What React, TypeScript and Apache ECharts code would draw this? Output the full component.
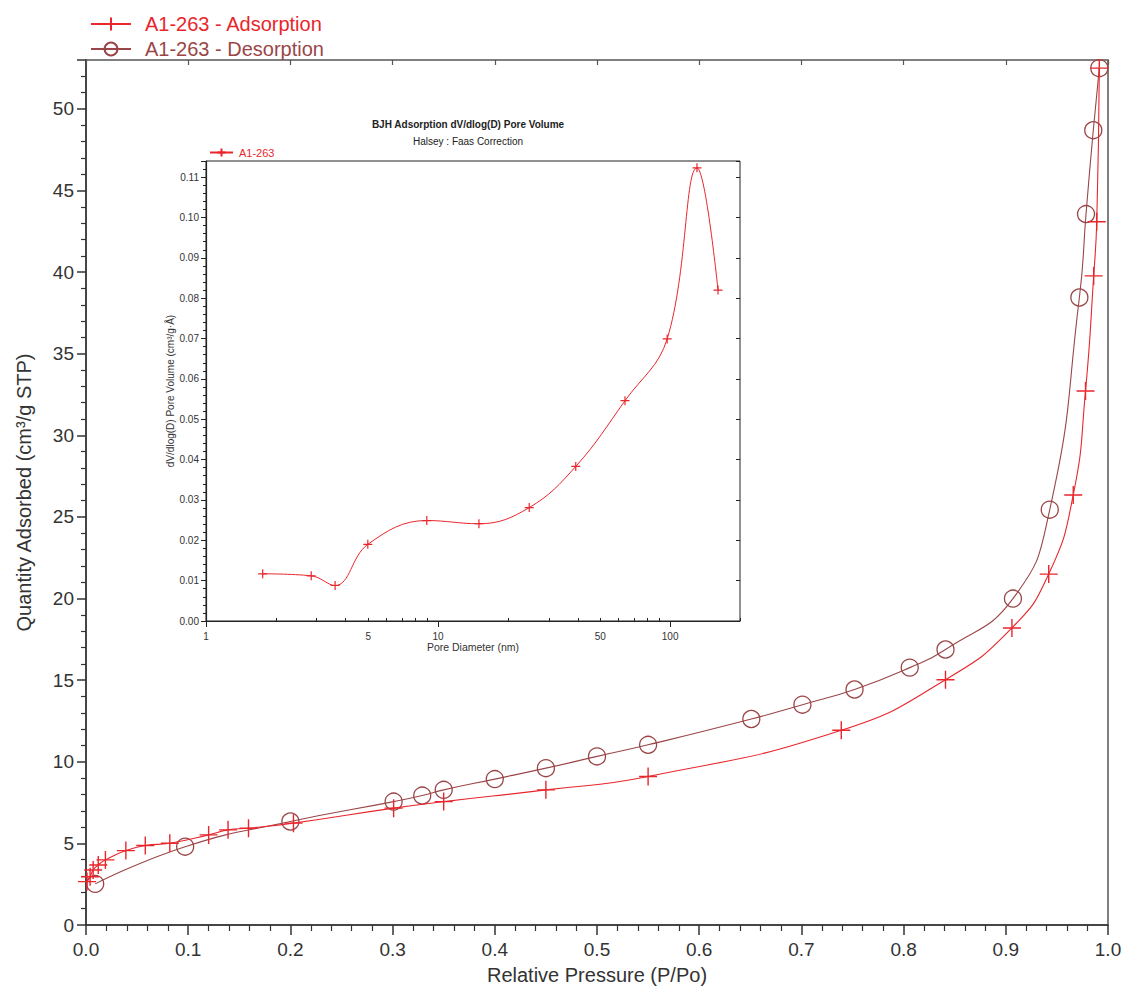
import React, { useEffect, useRef } from "react";
import * as echarts from "echarts";

// Main isotherm (Relative Pressure P/Po vs Quantity Adsorbed)
const adsP = [0.001, 0.004, 0.007, 0.012, 0.019, 0.039, 0.058, 0.082, 0.12, 0.139, 0.159, 0.203, 0.301, 0.35, 0.45, 0.55, 0.739, 0.841, 0.906, 0.942, 0.966, 0.978, 0.986, 0.989, 0.9915];
const adsQ = [2.66, 2.96, 3.37, 3.68, 3.99, 4.56, 4.87, 5.01, 5.52, 5.83, 5.93, 6.24, 7.16, 7.56, 8.28, 9.1, 11.93, 15.03, 18.2, 21.5, 26.35, 32.72, 39.77, 43.09, 52.5];
const desP = [0.009, 0.097, 0.2, 0.301, 0.329, 0.35, 0.4, 0.45, 0.5, 0.55, 0.651, 0.701, 0.752, 0.806, 0.841, 0.907, 0.943, 0.972, 0.9785, 0.9856, 0.9915];
const desQ = [2.52, 4.8, 6.34, 7.56, 7.93, 8.28, 8.94, 9.61, 10.33, 11.04, 12.62, 13.5, 14.43, 15.77, 16.88, 20.0, 25.45, 38.45, 43.56, 48.7, 52.5];

// Inset BJH pore size distribution
const poreD = [1.755, 2.84, 3.6, 4.98, 8.94, 15.0, 24.7, 39.2, 63.9, 97.1, 130.5, 160.8];
const poreV = [0.0117, 0.0112, 0.0088, 0.019, 0.0249, 0.0241, 0.0281, 0.0383, 0.0546, 0.0699, 0.1123, 0.082];

const insetLabelValues = [1, 5, 10, 50, 100];
const insetMajorTicks = [1, 10, 100];
const insetMinorTicks = [2, 3, 4, 5, 6, 7, 8, 9, 20, 30, 40, 50, 60, 70, 80, 90, 200];

const RED = "#e8262c";
const BROWN = "#9a4648";
const AXIS = "#333333";
const FONT = "'Liberation Sans', Arial, sans-serif";
const PLUS = "path://M10,0L10,20M0,10L20,10";

export default function App() {
  const ref = useRef<HTMLDivElement>(null);
  useEffect(() => {
    document.body.style.margin = "0";
    const chart = echarts.init(ref.current!, null, { renderer: "svg" });
    chart.setOption({
      animation: false,
      backgroundColor: "#ffffff",
      textStyle: { fontFamily: FONT },
      graphic: [
        {
          type: "text",
          x: 468,
          y: 124,
          style: {
            text: "BJH Adsorption dV/dlog(D) Pore Volume",
            font: `bold 10px ${FONT}`,
            fill: "#222",
            align: "center",
            verticalAlign: "middle",
          },
        },
        {
          type: "text",
          x: 468,
          y: 141,
          style: {
            text: "Halsey : Faas Correction",
            font: `10px ${FONT}`,
            fill: "#222",
            align: "center",
            verticalAlign: "middle",
          },
        },
      ],
      legend: [
        {
          orient: "vertical",
          left: 85,
          top: 9,
          itemWidth: 40,
          itemHeight: 16,
          itemGap: 5,
          selectedMode: false,
          textStyle: { fontSize: 20, fontFamily: FONT, lineHeight: 20, padding: [0, 0, 0, 9] },
          data: [
            { name: "A1-263 - Adsorption", textStyle: { color: RED } },
            { name: "A1-263 - Desorption", textStyle: { color: BROWN } },
          ],
        },
        {
          orient: "vertical",
          left: 204,
          top: 142,
          itemWidth: 23,
          itemHeight: 10,
          selectedMode: false,
          textStyle: { fontSize: 11, fontFamily: FONT, padding: [0, 0, 0, 1] },
          data: [{ name: "A1-263", textStyle: { color: RED } }],
        },
      ],
      grid: [
        { left: 86, top: 60, width: 1022, height: 865, show: true, borderColor: "#555", borderWidth: 1.5, backgroundColor: "transparent" },
        { left: 206, top: 161, width: 534, height: 460, show: true, borderColor: "#222", borderWidth: 1, backgroundColor: "transparent" },
      ],
      xAxis: [
        {
          gridIndex: 0,
          type: "value",
          min: 0,
          max: 1,
          interval: 0.1,
          splitLine: { show: false },
          axisLine: { lineStyle: { color: AXIS, width: 1.5 } },
          axisTick: { length: 10, lineStyle: { color: AXIS, width: 1.5 } },
          minorTick: { show: true, splitNumber: 5, length: 6, lineStyle: { color: AXIS, width: 1.2 } },
          minorSplitLine: { show: false },
          axisLabel: { formatter: (v: number) => v.toFixed(1), fontSize: 19, color: AXIS, margin: 15, fontFamily: FONT },
          name: "Relative Pressure (P/Po)",
          nameLocation: "middle",
          nameGap: 40,
          nameTextStyle: { fontSize: 20, color: AXIS, fontFamily: FONT },
        },
        {
          gridIndex: 1,
          type: "log",
          logBase: 10,
          min: 1,
          max: 200,
          splitLine: { show: false },
          axisLine: { lineStyle: { color: "#222", width: 1.2 } },
          axisTick: { length: 6, customValues: insetMajorTicks, lineStyle: { color: "#222", width: 1 } },
          axisLabel: { customValues: insetLabelValues, fontSize: 10, color: AXIS, margin: 10, fontFamily: FONT },
          name: "Pore Diameter (nm)",
          nameLocation: "middle",
          nameGap: 17,
          nameTextStyle: { fontSize: 10.5, color: AXIS, fontFamily: FONT },
        },
        {
          gridIndex: 1,
          type: "log",
          logBase: 10,
          min: 1,
          max: 200,
          splitLine: { show: false },
          axisLine: { show: false },
          axisTick: { length: 3, customValues: insetMinorTicks, lineStyle: { color: "#222", width: 1 } },
          axisLabel: { show: false },
        },
        {
          gridIndex: 0,
          type: "value",
          position: "top",
          min: 0,
          max: 1,
          interval: 0.1,
          splitLine: { show: false },
          axisLine: { show: false },
          axisTick: { inside: true, length: 5, lineStyle: { color: "#555", width: 1.2 } },
          axisLabel: { show: false },
        },
      ],
      yAxis: [
        {
          gridIndex: 0,
          type: "value",
          min: 0,
          max: 53,
          interval: 5,
          splitLine: { show: false },
          axisLine: { lineStyle: { color: AXIS, width: 1.5 } },
          axisTick: { length: 9, lineStyle: { color: AXIS, width: 1.5 } },
          minorTick: { show: true, splitNumber: 5, length: 5, lineStyle: { color: AXIS, width: 1.2 } },
          minorSplitLine: { show: false },
          axisLabel: { fontSize: 19, color: AXIS, margin: 12, fontFamily: FONT, showMaxLabel: false },
          name: "Quantity Adsorbed (cm³/g STP)",
          nameLocation: "middle",
          nameGap: 52,
          nameTextStyle: { fontSize: 20, color: AXIS, fontFamily: FONT },
        },
        {
          gridIndex: 1,
          type: "value",
          min: 0,
          max: 0.114,
          interval: 0.01,
          splitLine: { show: false },
          axisLine: { lineStyle: { color: "#222", width: 1.2 } },
          axisTick: { length: 5, lineStyle: { color: "#222", width: 1 } },
          minorTick: { show: true, splitNumber: 5, length: 3, lineStyle: { color: "#222", width: 1 } },
          minorSplitLine: { show: false },
          axisLabel: { formatter: (v: number) => v.toFixed(2), fontSize: 10, color: AXIS, margin: 7, fontFamily: FONT, showMaxLabel: false },
          name: "dV/dlog(D) Pore Volume (cm³/g·Å)",
          nameLocation: "middle",
          nameGap: 30,
          nameTextStyle: { fontSize: 10, color: AXIS, fontFamily: FONT },
        },
        {
          gridIndex: 1,
          type: "value",
          position: "right",
          min: 0,
          max: 0.114,
          interval: 0.01,
          splitLine: { show: false },
          axisLine: { show: false },
          axisTick: { inside: true, length: 4, lineStyle: { color: "#222", width: 1 } },
          axisLabel: { show: false },
        },
      ],
      series: [
        {
          name: "A1-263 - Desorption",
          type: "line",
          xAxisIndex: 0,
          yAxisIndex: 0,
          data: desP.map((p, i) => [p, desQ[i]]),
          smooth: 0.5,
          symbol: "circle",
          symbolSize: 17,
          itemStyle: { color: "transparent", borderColor: BROWN, borderWidth: 1.3 },
          lineStyle: { color: BROWN, width: 1.1 },
          emphasis: { disabled: true },
          z: 3,
        },
        {
          name: "A1-263 - Adsorption",
          type: "line",
          xAxisIndex: 0,
          yAxisIndex: 0,
          data: adsP.map((p, i) => [p, adsQ[i]]),
          smooth: 0.5,
          symbol: PLUS,
          symbolSize: 18,
          itemStyle: { color: "transparent", borderColor: RED, borderWidth: 1.4 },
          lineStyle: { color: RED, width: 1.1 },
          emphasis: { disabled: true },
          z: 4,
        },
        {
          name: "A1-263",
          type: "line",
          xAxisIndex: 1,
          yAxisIndex: 1,
          data: poreD.map((d, i) => [d, poreV[i]]),
          smooth: 0.4,
          symbol: PLUS,
          symbolSize: 9,
          itemStyle: { color: "transparent", borderColor: RED, borderWidth: 1.2 },
          lineStyle: { color: RED, width: 1 },
          emphasis: { disabled: true },
          z: 4,
        },
      ],
    });
    return () => chart.dispose();
  }, []);
  return <div ref={ref} style={{ width: 1127, height: 992 }} />;
}
